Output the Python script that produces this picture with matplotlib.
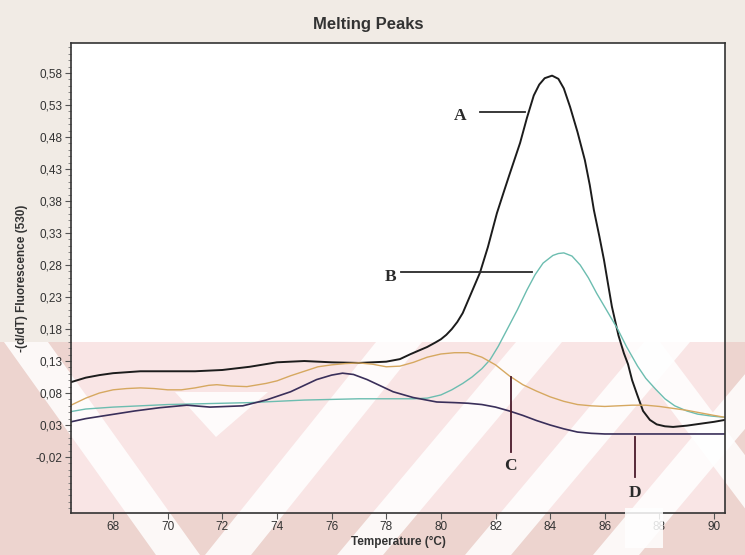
import matplotlib
matplotlib.use("Agg")
import matplotlib.pyplot as plt
from matplotlib.patches import Polygon, Rectangle
from matplotlib.ticker import FixedLocator, AutoMinorLocator

# melting peak curves (temperature in C, -(d/dT) fluorescence)
a_temp = [66.46, 67.0, 67.5, 68.0, 69.0, 70.0, 71.0, 72.0, 73.0, 74.0, 75.0, 76.0, 77.0,
          78.0, 78.5, 78.9, 79.5, 79.8, 80.0, 80.2, 80.4, 80.6, 80.8, 81.1, 81.43, 81.72,
          82.05, 82.3, 82.5, 82.9, 83.15, 83.4, 83.6, 83.8, 84.07, 84.3, 84.5, 84.73, 85.0,
          85.27, 85.45, 85.6, 85.8, 85.97, 86.12, 86.26, 86.5, 86.7, 86.85, 87.0, 87.18,
          87.4, 87.65, 87.9, 88.2, 88.5, 89.0, 89.5, 90.0, 90.4]
a_val = [0.097, 0.104, 0.108, 0.111, 0.114, 0.114, 0.114, 0.116, 0.121, 0.128, 0.130, 0.128,
         0.127, 0.129, 0.133, 0.141, 0.152, 0.159, 0.164, 0.171, 0.180, 0.191, 0.205, 0.235,
         0.268, 0.308, 0.361, 0.394, 0.420, 0.471, 0.510, 0.545, 0.562, 0.572, 0.576, 0.571,
         0.556, 0.527, 0.488, 0.444, 0.405, 0.366, 0.325, 0.288, 0.250, 0.215, 0.170, 0.142,
         0.125, 0.100, 0.078, 0.052, 0.038, 0.031, 0.028, 0.027, 0.029, 0.032, 0.035, 0.038]

b_temp = [66.46, 67.0, 68.0, 69.0, 70.0, 71.0, 72.0, 73.0, 74.0, 75.0, 76.0, 77.0, 78.0,
          79.0, 79.5, 80.0, 80.4, 80.8, 81.14, 81.5, 81.8, 82.1, 82.42, 82.8, 83.15, 83.45,
          83.74, 84.1, 84.3, 84.5, 84.8, 85.1, 85.4, 85.7, 86.1, 86.47, 86.8, 87.2, 87.5,
          87.86, 88.2, 88.56, 89.0, 89.4, 89.9, 90.4]
b_val = [0.051, 0.055, 0.058, 0.060, 0.062, 0.063, 0.064, 0.065, 0.067, 0.069, 0.070, 0.071,
         0.071, 0.071, 0.072, 0.077, 0.085, 0.095, 0.105, 0.118, 0.132, 0.153, 0.179, 0.210,
         0.241, 0.265, 0.283, 0.295, 0.298, 0.299, 0.294, 0.280, 0.260, 0.236, 0.207, 0.180,
         0.152, 0.122, 0.103, 0.086, 0.071, 0.060, 0.052, 0.047, 0.044, 0.042]

c_temp = [66.46, 67.0, 67.5, 68.0, 68.5, 69.0, 69.5, 70.0, 70.5, 71.0, 71.5, 71.8, 72.3,
          72.9, 73.6, 74.0, 74.5, 75.0, 75.5, 76.0, 76.5, 77.0, 77.5, 78.0, 78.5, 79.0,
          79.5, 80.0, 80.5, 81.0, 81.5, 82.0, 82.5, 83.0, 83.5, 84.0, 84.5, 85.0, 85.5,
          86.0, 86.5, 87.0, 87.5, 88.0, 88.5, 89.0, 89.5, 90.0, 90.4]
c_val = [0.061, 0.072, 0.080, 0.085, 0.087, 0.088, 0.087, 0.085, 0.085, 0.088, 0.092, 0.093,
         0.091, 0.090, 0.095, 0.099, 0.107, 0.114, 0.121, 0.124, 0.126, 0.127, 0.125, 0.121,
         0.122, 0.128, 0.136, 0.141, 0.143, 0.143, 0.136, 0.124, 0.107, 0.093, 0.083, 0.074,
         0.067, 0.062, 0.060, 0.059, 0.060, 0.061, 0.061, 0.059, 0.056, 0.053, 0.049, 0.045,
         0.042]

d_temp = [66.46, 67.0, 67.9, 68.8, 69.7, 70.7, 71.55, 72.75, 73.6, 74.5, 75.45, 76.0, 76.4,
          76.8, 77.3, 78.25, 78.98, 79.85, 80.5, 81.0, 81.5, 82.0, 82.5, 83.0, 83.5, 84.0,
          84.5, 85.0, 85.5, 86.0, 86.5, 87.0, 88.0, 90.4]
d_val = [0.035, 0.040, 0.046, 0.052, 0.057, 0.061, 0.058, 0.060, 0.069, 0.082, 0.101, 0.108,
         0.111, 0.109, 0.101, 0.082, 0.073, 0.066, 0.065, 0.064, 0.062, 0.058, 0.052, 0.045,
         0.037, 0.030, 0.024, 0.019, 0.017, 0.016, 0.016, 0.016, 0.016, 0.016]

y_ticks = [0.58, 0.53, 0.48, 0.43, 0.38, 0.33, 0.28, 0.23, 0.18, 0.13, 0.08, 0.03, -0.02]
y_tick_labels = ["0,58", "0,53", "0,48", "0,43", "0,38", "0,33", "0,28", "0,23", "0,18",
                 "0,13", "0,08", "0,03", "-0,02"]
x_ticks = [68, 70, 72, 74, 76, 78, 80, 82, 84, 86, 88, 90]

W, H = 745, 555
fig = plt.figure(figsize=(7.45, 5.55), dpi=100)
fig.patch.set_facecolor("#f1ebe5")


def px(x, y):
    return (x / W, 1 - y / H)


def add_shape(points, color, alpha, z):
    fig.patches.append(Polygon([px(x, y) for x, y in points], closed=True,
                               transform=fig.transFigure, facecolor=color, alpha=alpha,
                               edgecolor="none", zorder=z))


# plot area and the pink watermark behind it
ax_l, ax_t, ax_r, ax_b = 71, 43, 725, 513
add_shape([(ax_l, ax_t), (ax_r, ax_t), (ax_r, ax_b), (ax_l, ax_b)], "white", 1, -3)
add_shape([(0, 342), (W, 342), (W, H), (0, H)], "#e07070", 0.18, -2)
# white diagonal gaps of the watermark: (x at y=342, x at y=555, width)
for top_x, bot_x, w in [(26, 178, 44), (399, 228, 46), (539, 360, 46), (667, 488, 46),
                        (795, 616, 46), (640, 800, 40)]:
    add_shape([(top_x - w / 2, 342), (top_x + w / 2, 342), (bot_x + w / 2, H),
               (bot_x - w / 2, H)], "white", 0.85, -1)
add_shape([(175, 392), (268, 392), (216, 437)], "white", 0.85, -1)

ax = fig.add_axes([ax_l / W, 1 - ax_b / H, (ax_r - ax_l) / W, (ax_b - ax_t) / H])
ax.set_facecolor("none")

ax.plot(a_temp, a_val, color="#1c1c1c", lw=1.4)
ax.plot(b_temp, b_val, color="#6cbdb0", lw=1.0)
ax.plot(c_temp, c_val, color="#d6a860", lw=1.0)
ax.plot(d_temp, d_val, color="#3a2f5a", lw=1.2)

ax.set_xlim(66.46, 90.4)
ax.set_ylim(-0.1075, 0.627)

# curve labels
serif = dict(family="Liberation Serif", fontsize=12.5, fontweight="bold", color="#2a2a2a")
ax.plot([81.43, 83.08], [0.519, 0.519], color="#2a2a2a", lw=1.3)
ax.text(80.7, 0.513, "A", ha="center", va="center", **serif)
ax.plot([78.54, 83.33], [0.269, 0.269], color="#2a2a2a", lw=1.3)
ax.text(78.15, 0.262, "B", ha="center", va="center", **serif)
ax.plot([82.56, 82.56], [0.105, -0.012], color="#4a1a2a", lw=1.3)
ax.text(82.56, -0.034, "C", ha="center", va="center", **serif)
ax.plot([87.1, 87.1], [0.011, -0.051], color="#4a1a2a", lw=1.3)
ax.text(87.1, -0.076, "D", ha="center", va="center", **serif)

ax.yaxis.set_major_locator(FixedLocator(y_ticks))
ax.set_yticklabels(y_tick_labels)
ax.yaxis.set_minor_locator(AutoMinorLocator(5))
ax.set_xticks(x_ticks)
ax.tick_params(axis="both", which="major", length=4, width=0.8, color="#555555",
               labelsize=8.5, labelcolor="#333333", pad=2)
ax.tick_params(axis="y", which="minor", length=2, width=0.6, color="#777777")
for lab in ax.get_xticklabels() + ax.get_yticklabels():
    lab.set_family("Liberation Sans")
for s in ax.spines.values():
    s.set_color("#333333")
    s.set_linewidth(1.2)

ax.set_xlabel("Temperature (°C)", fontsize=8.5, fontweight="bold", family="Liberation Sans",
              color="#333333", labelpad=2)
fig.text(22 / W, 1 - 278 / H, "-(d/dT) Fluorescence (530)", rotation=90, ha="center",
         va="center", fontsize=8.5, fontweight="bold", family="Liberation Sans", color="#333333")
fig.text(368 / W, 1 - 25 / H, "Melting Peaks", ha="center", va="center", fontsize=12,
         fontweight="bold", family="Liberation Sans", color="#333333")

# white smudge over the x axis near 88
add_shape([(625, 508), (663, 508), (663, 548), (625, 548)], "white", 0.85, 5)

fig.savefig("out.png", dpi=100, facecolor=fig.get_facecolor())
